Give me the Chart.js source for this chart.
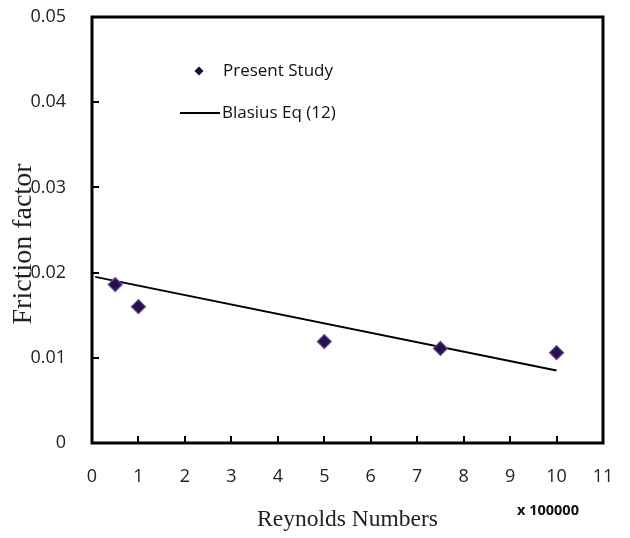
<!DOCTYPE html>
<html>
<head>
<meta charset="utf-8">
<style>
  html, body { margin: 0; padding: 0; background: #fff; }
  #wrap { width: 630px; height: 538px; }
</style>
<script src="https://cdn.jsdelivr.net/npm/chart.js@4.4.1/dist/chart.umd.min.js"></script>
</head>
<body>
<div id="wrap"><canvas id="c" width="630" height="538"></canvas></div>
<script>
// ---- data ----
const reynolds = [0.5, 1, 5, 7.5, 10];              // x 100000
const friction = [0.0186, 0.0160, 0.0119, 0.0111, 0.0106];
const blasiusRe = [0.07, 10];
const blasiusF = [0.0195, 0.0085];
const xTickLabels = ['0','1','2','3','4','5','6','7','8','9','10','11'];
const yTickLabels = ['0','0.01','0.02','0.03','0.04','0.05'];
const seriesNames = ['Present Study', 'Blasius Eq (12)'];
const xTitle = 'Reynolds Numbers';
const yTitle = 'Friction factor';
const xUnit = 'x 100000';

const markerFill = '#28104c';
const markerEdge = '#6a4a9c';

const framePlugin = {
  id: 'frame',
  afterDraw(chart) {
    const ctx = chart.ctx;
    const a = chart.chartArea;
    const xs = chart.scales.x, ys = chart.scales.y;
    ctx.save();
    // inward ticks
    ctx.strokeStyle = '#000';
    ctx.lineWidth = 2;
    xs.ticks.forEach(t => {
      const px = Math.round(xs.getPixelForValue(t.value));
      ctx.beginPath(); ctx.moveTo(px, a.bottom); ctx.lineTo(px, a.bottom - 7); ctx.stroke();
    });
    ys.ticks.forEach(t => {
      const py = Math.round(ys.getPixelForValue(t.value));
      ctx.beginPath(); ctx.moveTo(a.left, py); ctx.lineTo(a.left + 7, py); ctx.stroke();
    });
    // frame
    ctx.lineWidth = 3;
    ctx.strokeRect(a.left, a.top, a.right - a.left, a.bottom - a.top);

    // legend
    const lx = a.left + 107, ly1 = a.top + 54, ly2 = a.top + 96;
    ctx.beginPath();
    const r = 4.5;
    ctx.moveTo(lx, ly1 - r); ctx.lineTo(lx + r, ly1); ctx.lineTo(lx, ly1 + r); ctx.lineTo(lx - r, ly1); ctx.closePath();
    ctx.fillStyle = '#0f0a2a'; ctx.fill();
    ctx.strokeStyle = '#000';
    ctx.lineWidth = 2;
    ctx.beginPath(); ctx.moveTo(a.left + 88, ly2); ctx.lineTo(a.left + 128, ly2); ctx.stroke();
    ctx.fillStyle = '#111';
    ctx.font = '17px "Open Sans"';
    ctx.textBaseline = 'middle';
    ctx.textAlign = 'left';
    ctx.fillText(seriesNames[0], a.left + 131, ly1);
    ctx.fillText(seriesNames[1], a.left + 130, ly2);

    // axis titles
    ctx.fillStyle = '#222';
    ctx.font = '23.5px "Liberation Serif"';
    ctx.textAlign = 'center';
    ctx.fillText(xTitle, (a.left + a.right) / 2, 520);
    ctx.save();
    ctx.translate(24, (a.top + a.bottom) / 2 + 14);
    ctx.rotate(-Math.PI / 2);
    ctx.font = '28px "Liberation Serif"';
    ctx.fillText(yTitle, 0, 0);
    ctx.restore();
    // unit
    ctx.font = 'bold 14.5px "Open Sans"';
    ctx.fillStyle = '#111';
    ctx.fillText(xUnit, 548, 511);
    ctx.restore();
  }
};

new Chart(document.getElementById('c'), {
  type: 'scatter',
  data: {
    datasets: [
      {
        label: seriesNames[0],
        data: reynolds.map((x, i) => ({ x, y: friction[i] })),
        pointStyle: 'rectRot',
        pointRadius: 7,
        backgroundColor: markerFill,
        borderColor: markerEdge,
        borderWidth: 1.2,
        showLine: false
      },
      {
        label: seriesNames[1],
        data: blasiusRe.map((x, i) => ({ x, y: blasiusF[i] })),
        showLine: true,
        borderColor: '#000',
        borderWidth: 2,
        pointRadius: 0,
        fill: false
      }
    ]
  },
  options: {
    responsive: false,
    animation: false,
    layout: { padding: { top: 17, right: 27, bottom: 0, left: 0 } },
    plugins: { legend: { display: false }, tooltip: { enabled: false } },
    scales: {
      x: {
        type: 'linear', min: 0, max: 11,
        ticks: {
          stepSize: 1,
          padding: 15,
          color: '#222',
          font: { family: 'Open Sans', size: 18 },
          callback: (v, i) => xTickLabels[i]
        },
        grid: { display: false },
        border: { display: false },
        afterFit: s => { s.height = 95; s.paddingLeft = 0; s.paddingRight = 0; }
      },
      y: {
        type: 'linear', min: 0, max: 0.05,
        ticks: {
          stepSize: 0.01,
          padding: 18,
          color: '#222',
          font: { family: 'Open Sans', size: 18 },
          callback: (v, i) => yTickLabels[i]
        },
        grid: { display: false },
        border: { display: false },
        afterFit: s => { s.width = 92; s.paddingTop = 0; s.paddingBottom = 0; }
      }
    }
  },
  plugins: [framePlugin]
});
</script>
</body>
</html>
